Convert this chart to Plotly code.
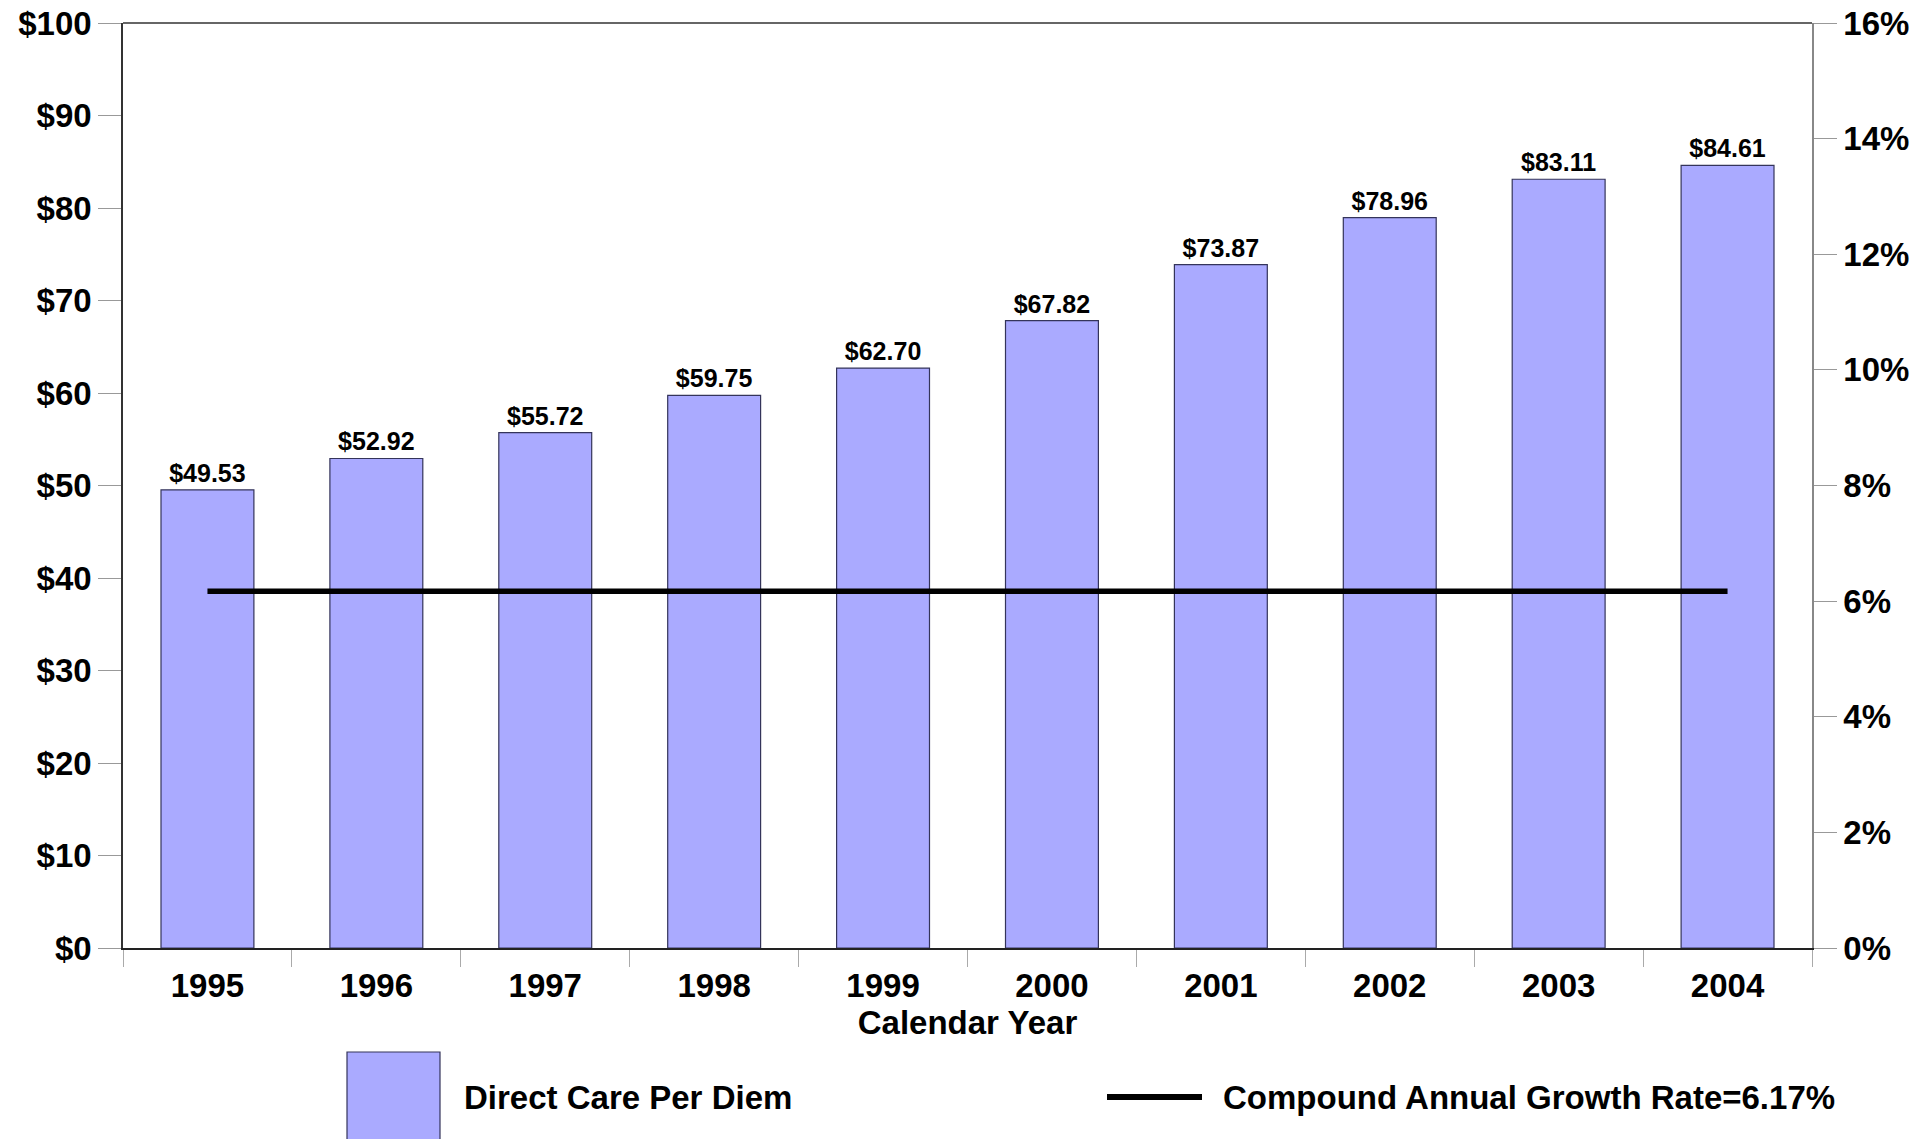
import plotly.graph_objects as go

years = ["1995", "1996", "1997", "1998", "1999", "2000", "2001", "2002", "2003", "2004"]
per_diem = [49.53, 52.92, 55.72, 59.75, 62.70, 67.82, 73.87, 78.96, 83.11, 84.61]
cagr = [6.17] * len(years)
bar_name = "Direct Care Per Diem"
line_name = "Compound Annual Growth Rate=6.17%"

FONT = "Liberation Sans, Arial, sans-serif"
BAR_FILL = "#AAAAFF"
BAR_LINE = "#34345A"

W, H = 1932, 1139
L, R, T, B = 123, 1812, 23, 948
PW, PH = R - L, B - T


def px(x):
    return (x - L) / PW


def py(y):
    return (B - y) / PH


fig = go.Figure()
fig.add_trace(go.Bar(
    x=years, y=per_diem, name=bar_name,
    marker=dict(color=BAR_FILL, line=dict(color=BAR_LINE, width=1.2)),
    text=[f"${v:.2f}" for v in per_diem], textposition="outside",
    textfont=dict(size=25, color="black", family=FONT, weight="bold"),
    cliponaxis=False, showlegend=False,
))
fig.add_trace(go.Scatter(
    x=years, y=cagr, name=line_name, yaxis="y2", mode="lines",
    line=dict(color="black", width=5.5), showlegend=False,
))

fig.update_layout(
    width=W, height=H,
    margin=dict(l=L, r=W - R, t=T, b=H - B),
    paper_bgcolor="white", plot_bgcolor="white",
    font=dict(family=FONT, size=33, color="black", weight="bold"),
    bargap=0.45,
    xaxis=dict(
        type="category", showgrid=False, automargin=False,
        showline=True, linecolor="#222222", linewidth=1.5, mirror=False,
        ticks="outside", tickson="boundaries", ticklen=17, tickcolor="#AAAAAA", tickwidth=1,
        ticklabelstandoff=8, ticklabeloverflow="allow",
        tickfont=dict(size=33, family=FONT, weight="bold"),
        title=dict(text="Calendar Year", font=dict(size=33, family=FONT, weight="bold"), standoff=4),
    ),
    yaxis=dict(
        range=[0, 100], dtick=10, tickprefix="$", showgrid=False, zeroline=False,
        automargin=False, ticklabeloverflow="allow",
        showline=True, linecolor="#333333", linewidth=1.5,
        ticks="outside", ticklen=23, tickcolor="#999999", tickwidth=1,
        tickfont=dict(size=33, family=FONT, weight="bold"),
    ),
    yaxis2=dict(
        range=[0, 16], dtick=2, ticksuffix="%", overlaying="y", side="right",
        showgrid=False, zeroline=False, automargin=False, ticklabeloverflow="allow",
        showline=True, linecolor="#888888", linewidth=1.5,
        ticks="outside", ticklen=23, tickcolor="#999999", tickwidth=1,
        tickfont=dict(size=33, family=FONT, weight="bold"),
    ),
    showlegend=False,
)

# top border of plot area
fig.add_shape(type="line", xref="paper", yref="paper", x0=0, x1=1, y0=1, y1=1,
              line=dict(color="#333333", width=1.5))

# manual legend
fig.add_shape(type="rect", xref="paper", yref="paper",
              x0=px(347), x1=px(440), y0=py(H + 5), y1=py(1052),
              fillcolor=BAR_FILL, line=dict(color=BAR_LINE, width=1.2))
fig.add_annotation(xref="paper", yref="paper", x=px(462), y=py(1097),
                   text=bar_name, showarrow=False, xanchor="left", yanchor="middle",
                   font=dict(size=33, family=FONT, weight="bold"))
fig.add_shape(type="line", xref="paper", yref="paper",
              x0=px(1107), x1=px(1202), y0=py(1097), y1=py(1097),
              line=dict(color="black", width=6))
fig.add_annotation(xref="paper", yref="paper", x=px(1221), y=py(1097),
                   text=line_name, showarrow=False, xanchor="left", yanchor="middle",
                   font=dict(size=33, family=FONT, weight="bold"))

fig.write_html("out.html",
               config={"displayModeBar": False},
               post_script="document.body.style.margin='0';document.body.style.overflow='hidden';")
